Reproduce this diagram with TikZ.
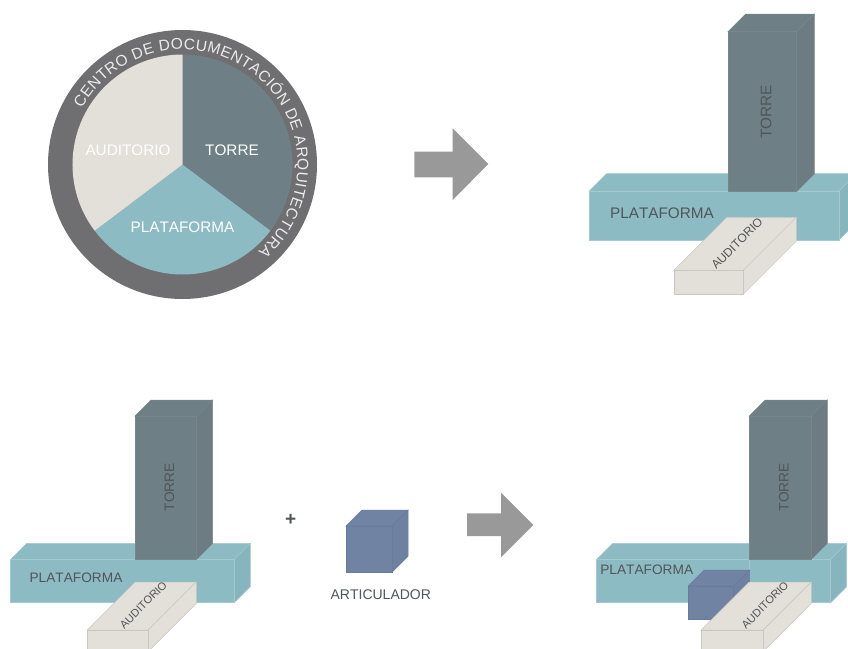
\documentclass[tikz,border=0pt]{standalone}
\usepackage{fontspec}
\setmainfont[Kerning=Off]{Liberation Sans}
\usetikzlibrary{decorations.text}
\definecolor{torre}{HTML}{6E7F85}
\definecolor{torreside}{HTML}{6C7C82}
\definecolor{torreline}{HTML}{76868B}
\definecolor{plata}{HTML}{8DBBC4}
\definecolor{plataside}{HTML}{87B5BE}
\definecolor{plataline}{HTML}{A6C8CF}
\definecolor{audi}{HTML}{E3DFD9}
\definecolor{audiline}{HTML}{C9C7C1}
\definecolor{arti}{HTML}{7083A3}
\definecolor{artiside}{HTML}{6E81A1}
\definecolor{artiline}{HTML}{687B9C}
\definecolor{anillo}{HTML}{6F6F71}
\definecolor{flecha}{HTML}{999999}
\definecolor{letra}{HTML}{505558}
\tikzset{
  pietext/.style={text=white, inner sep=0pt, font=\fontsize{15.3}{15}\selectfont},
  bigtext/.style={text=letra, inner sep=0pt, font=\fontsize{15.3}{15}\selectfont},
  smalltext/.style={text=letra, inner sep=0pt, font=\fontsize{13.7}{14}\selectfont},
  audtext/.style={text=letra, inner sep=0pt, rotate=45},
  flechagris/.style={fill=flecha, draw=none}
}
% front top left, front bottom right, depth, front, side, edge
\newcommand{\bloque}[8]{
\filldraw[fill=#6, draw=#8, line width=0.5pt] (#1,#2) -- ++(#5,-#5) -- (#3+#5,#2-#5) -- (#3,#2) -- cycle;
\filldraw[fill=#7, draw=#8, line width=0.5pt] (#3,#2) -- (#3+#5,#2-#5) -- (#3+#5,#4-#5) -- (#3,#4) -- cycle;
\filldraw[fill=#6, draw=#8, line width=0.5pt] (#1,#2) rectangle (#3,#4);
}
\begin{document}
\begin{tikzpicture}[x=1pt,y=-1pt]
\useasboundingbox (0,0) rectangle (848,648);
\clip (0,0) rectangle (848,648);

% circle
\begin{scope}[shift={(182.5pt,-164.5pt)},y=1pt]
\fill[anillo] (0,0) circle (134.5);
\fill[torre] (0,0) -- (90:110) arc (90:-37:110) -- cycle;
\fill[plata] (0,0) -- (-37:110) arc (-37:-143:110) -- cycle;
\fill[audi] (0,0) -- (217:110) arc (217:90:110) -- cycle;
\path[decorate, decoration={text along path, text align={fit to path},
  text={|\fontsize{15.5}{16}\selectfont\color{white!92!black}|CENTRO DE DOCUMENTACIÓN DE ARQUITECTURA}}]
  (151:115) arc (151:-49:115);
\end{scope}
\node[pietext] (pa) at (128,150) {AUDITORIO};
\node[pietext] (pt) at (232,150) {TORRE};
\node[pietext] (pp) at (182.5,227) {PLATAFORMA};

% arrows
\fill[flechagris] (414.3,151.7) -- (452.7,151.7) -- (452.7,128.3) -- (488.3,164) -- (452.7,200) -- (452.7,177.3) -- (414.3,177.3) -- cycle;
\fill[flechagris] (467,513.3) -- (501,513.3) -- (501,492.7) -- (533.3,525) -- (501,557.3) -- (501,536) -- (467,536) -- cycle;

% top right
\bloque{589.3}{191}{839}{240}{17.5}{plata}{plataside}{plataline}
\bloque{728}{31.7}{796.7}{191.5}{17.7}{torre}{torreside}{torreline}
\bloque{674}{270.3}{743.3}{294.3}{53}{audi}{audi}{audiline}
\node[bigtext] (p1) at (662,213) {PLATAFORMA};
\node[bigtext, rotate=90] (t1) at (766,112) {TORRE};
\node[audtext, font=\fontsize{12}{12}\selectfont] (a1) at (737,243.5) {AUDITORIO};

% bottom left
\bloque{10.7}{559.3}{234.3}{602.7}{16}{plata}{plataside}{plataline}
\bloque{135}{416}{196.7}{559.3}{16}{torre}{torreside}{torreline}
\bloque{87.3}{630}{148.3}{651.4}{48}{audi}{audi}{audiline}
\node[smalltext] (p2) at (76,578) {PLATAFORMA};
\node[smalltext, rotate=90] (t2) at (169.3,487.3) {TORRE};
\node[audtext, font=\fontsize{11}{11}\selectfont] (a2) at (143.3,605) {AUDITORIO};

% articulador
\node[text=letra, inner sep=0pt, font=\bfseries\fontsize{19}{19}\selectfont] (mas) at (290.7,520) {+};
\bloque{346}{526}{392}{572.3}{16}{arti}{artiside}{artiline}
\node[smalltext, font=\fontsize{14}{14}\selectfont] (art) at (380.8,594.3) {ARTICULADOR};

% bottom right
\bloque{596.7}{559.3}{830.7}{602.7}{16}{plata}{plataside}{plataline}
\draw[plataline, line width=0.5pt] (749.3,559.3) -- (749.3,590);
\bloque{749.3}{416}{811.3}{559.3}{16}{torre}{torreside}{torreline}
\bloque{688.3}{586}{733.7}{619}{16}{arti}{artiside}{artiline}
\bloque{701.3}{630}{763.3}{651.4}{48}{audi}{audi}{audiline}
\node[smalltext] (p3) at (646.7,570) {PLATAFORMA};
\node[smalltext, rotate=90] (t3) at (784,487.3) {TORRE};
\node[audtext, font=\fontsize{11}{11}\selectfont] (a3) at (765,605) {AUDITORIO};
\end{tikzpicture}
\end{document}
